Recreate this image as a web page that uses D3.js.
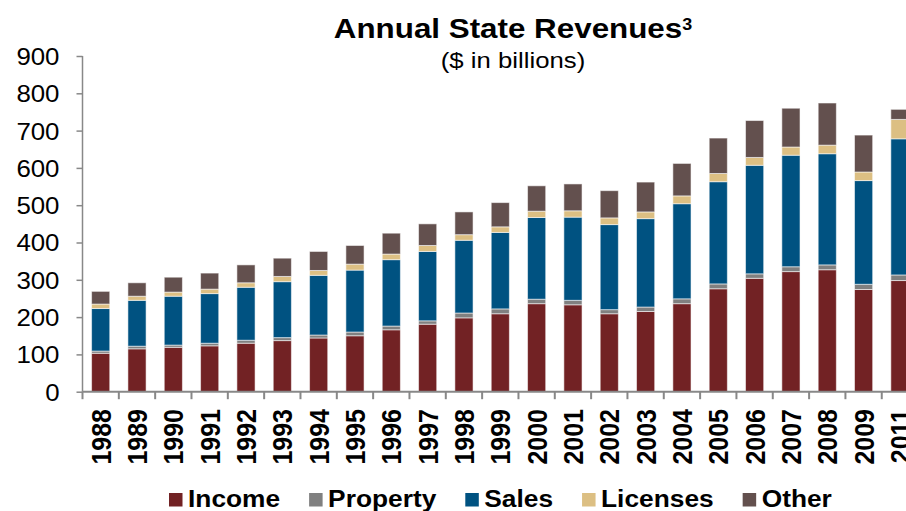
<!DOCTYPE html>
<html>
<head>
<meta charset="utf-8">
<script src="https://cdn.jsdelivr.net/npm/d3@7/dist/d3.min.js"></script>
<style>
  html, body { margin: 0; padding: 0; background: #fff; }
  svg { display: block; font-family: "Liberation Sans", Arial, sans-serif; }
</style>
</head>
<body>
<svg id="chart" width="906" height="511"></svg>
<script>
// ---- data ----
const years = ["1988","1989","1990","1991","1992","1993","1994","1995","1996","1997","1998","1999","2000","2001","2002","2003","2004","2005","2006","2007","2008","2009","2011"];
const income   = [103,115,119,123,130,137,144,150,166,181,198,209,236,233,209,215,236,276,304,322,327,274,298];
const property = [6,7,6,7,8,8,8,10,10,9,13,13,12,12,11,12,13,13,12,13,13,14,15];
const sales    = [114,123,131,133,142,150,160,166,178,186,195,205,219,223,228,237,255,274,291,299,298,278,365];
const licenses = [12,11,11,12,12,14,13,16,15,16,15,15,17,17,18,18,21,22,21,22,23,23,52];
const other    = [34,36,40,43,48,49,51,50,56,58,61,65,68,72,73,80,87,95,99,104,113,99,27];
const seriesNames = ["Income","Property","Sales","Licenses","Other"];
const yTicks = [0,100,200,300,400,500,600,700,800,900];
const titleText = "Annual State Revenues";
const titleSup = "3";
const subtitleText = "($ in billions)";

// ---- styles / layout ----
const colors = ["#722224","#808080","#005281","#dcbf83","#63504e"];
const SX = 1.12;
const svg = d3.select("#chart");
const left = 82.5, step = 36.33, y0 = 391.7, yTop = 56;

const table = years.map((yr, i) => ({
  year: yr, Income: income[i], Property: property[i], Sales: sales[i], Licenses: licenses[i], Other: other[i]
}));
const stacked = d3.stack().keys(seriesNames)(table);

const slot = d3.scaleBand().domain(years).range([left, left + step * years.length]).padding(0);
const x = slot.copy().paddingInner(0.5).paddingOuter(0.25);
const y = d3.scaleLinear().domain([0, 900]).range([y0, yTop]);

// bars
svg.append("g").selectAll("g").data(stacked).join("g")
  .attr("fill", (d, i) => colors[i])
  .selectAll("rect").data(d => d).join("rect")
  .attr("x", d => x(d.data.year))
  .attr("width", x.bandwidth())
  .attr("y", d => y(d[1]))
  .attr("height", d => y(d[0]) - y(d[1]))
  .attr("stroke", "rgba(255,255,255,0.55)")
  .attr("stroke-width", 1);

// y axis
const yAxis = svg.append("g").attr("transform", `translate(${left},0)`)
  .call(d3.axisLeft(y).tickValues(yTicks).tickSize(6).tickPadding(0).tickFormat(d3.format("d")));
yAxis.select(".domain").attr("stroke", "#888").attr("stroke-width", 1.5).attr("d", `M0,${yTop}V${y0}`);
yAxis.selectAll(".tick line").attr("stroke", "#888").attr("stroke-width", 1.5);
yAxis.selectAll(".tick text")
  .attr("x", 0).attr("dy", "0.36em")
  .attr("transform", `translate(-23,0) scale(1.1,1)`)
  .attr("font-size", 23.5).attr("fill", "#000")
  .attr("font-family", "Liberation Sans, Arial, sans-serif");

// x axis
const xAxis = svg.append("g").attr("transform", `translate(0,${y0})`)
  .call(d3.axisBottom(slot).tickSize(0).tickPadding(0));
xAxis.select(".domain").attr("stroke", "#888").attr("stroke-width", 2).attr("d", `M${left},0H906`);
xAxis.selectAll(".tick text")
  .attr("x", 0).attr("y", 0).attr("dy", "0.36em")
  .attr("text-anchor", "end")
  .attr("transform", `translate(0,${409 - y0}) rotate(-90) scale(1,${SX})`)
  .attr("font-size", 25).attr("font-weight", "bold").attr("fill", "#000")
  .attr("font-family", "Liberation Sans, Arial, sans-serif");
// boundary ticks
svg.append("g").selectAll("line").data(years).join("line")
  .attr("x1", d => slot(d)).attr("x2", d => slot(d))
  .attr("y1", y0).attr("y2", y0 + 7.5)
  .attr("stroke", "#888").attr("stroke-width", 2);

// title
const title = svg.append("text")
  .attr("transform", `translate(513,38.3) scale(${SX},1)`)
  .attr("text-anchor", "middle").attr("font-weight", "bold").attr("font-size", 28);
title.append("tspan").text(titleText);
title.append("tspan").attr("dy", -8.5).attr("font-size", 16).text(titleSup);

svg.append("text")
  .attr("transform", `translate(513,68) scale(${SX},1)`)
  .attr("text-anchor", "middle").attr("font-size", 23)
  .text(subtitleText);

// legend
const legend = svg.append("g");
let lx = 169;
seriesNames.forEach((name, i) => {
  legend.append("rect").attr("x", lx).attr("y", 493).attr("width", 13.5).attr("height", 13.5).attr("fill", colors[i]);
  const t = legend.append("text")
    .attr("transform", `translate(${lx + 19},507) scale(${SX},1)`)
    .attr("font-size", 23.5).attr("font-weight", "bold").text(name);
  const w = t.node().getComputedTextLength() * SX;
  lx = lx + 19 + w + 29;
});
</script>
</body>
</html>
